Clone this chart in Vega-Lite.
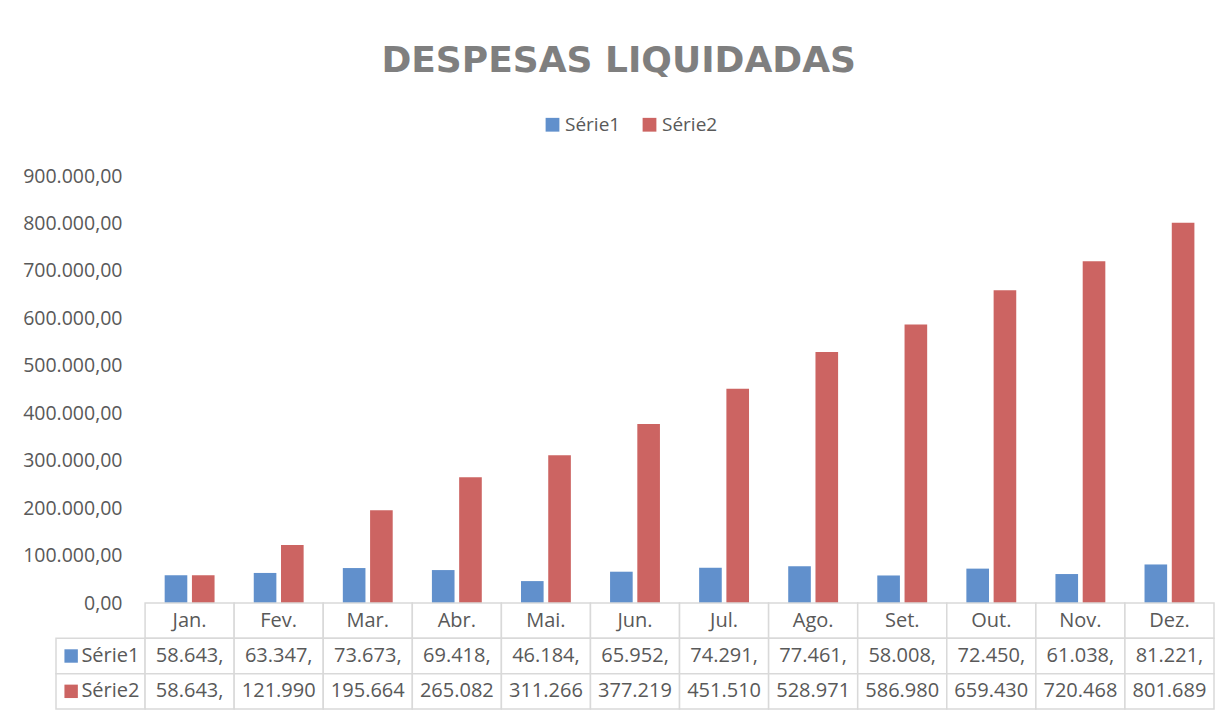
{
  "$schema": "https://vega.github.io/schema/vega-lite/v6.json",
  "background": "white",
  "padding": {"left": 22, "top": 43, "right": 10, "bottom": 5},
  "title": {"text": "DESPESAS LIQUIDADAS", "font": "DejaVu Sans", "fontSize": 36, "fontWeight": "bold", "color": "#7F7F7F", "anchor": "middle", "offset": 35},
  "config": {
    "locale": {"number": {"decimal": ",", "thousands": ".", "grouping": [3], "currency": ["", ""]}},
    "view": {"stroke": null},
    "font": "Open Sans"
  },
  "bounds": "flush",
  "spacing": 0,
  "resolve": {"scale": {"color": "independent"}, "legend": {"color": "independent"}},
  "datasets": {
    "bars": [
      {"month": "Jan.", "serie": "Série1", "value": 58643},
      {"month": "Fev.", "serie": "Série1", "value": 63347},
      {"month": "Mar.", "serie": "Série1", "value": 73673},
      {"month": "Abr.", "serie": "Série1", "value": 69418},
      {"month": "Mai.", "serie": "Série1", "value": 46184},
      {"month": "Jun.", "serie": "Série1", "value": 65952},
      {"month": "Jul.", "serie": "Série1", "value": 74291},
      {"month": "Ago.", "serie": "Série1", "value": 77461},
      {"month": "Set.", "serie": "Série1", "value": 58008},
      {"month": "Out.", "serie": "Série1", "value": 72450},
      {"month": "Nov.", "serie": "Série1", "value": 61038},
      {"month": "Dez.", "serie": "Série1", "value": 81221},
      {"month": "Jan.", "serie": "Série2", "value": 58643},
      {"month": "Fev.", "serie": "Série2", "value": 121990},
      {"month": "Mar.", "serie": "Série2", "value": 195664},
      {"month": "Abr.", "serie": "Série2", "value": 265082},
      {"month": "Mai.", "serie": "Série2", "value": 311266},
      {"month": "Jun.", "serie": "Série2", "value": 377219},
      {"month": "Jul.", "serie": "Série2", "value": 451510},
      {"month": "Ago.", "serie": "Série2", "value": 528971},
      {"month": "Set.", "serie": "Série2", "value": 586980},
      {"month": "Out.", "serie": "Série2", "value": 659430},
      {"month": "Nov.", "serie": "Série2", "value": 720468},
      {"month": "Dez.", "serie": "Série2", "value": 801689}
    ],
    "table": [
      {"col": "Jan.", "row": "h", "kind": "header", "text": "Jan."},
      {"col": "Fev.", "row": "h", "kind": "header", "text": "Fev."},
      {"col": "Mar.", "row": "h", "kind": "header", "text": "Mar."},
      {"col": "Abr.", "row": "h", "kind": "header", "text": "Abr."},
      {"col": "Mai.", "row": "h", "kind": "header", "text": "Mai."},
      {"col": "Jun.", "row": "h", "kind": "header", "text": "Jun."},
      {"col": "Jul.", "row": "h", "kind": "header", "text": "Jul."},
      {"col": "Ago.", "row": "h", "kind": "header", "text": "Ago."},
      {"col": "Set.", "row": "h", "kind": "header", "text": "Set."},
      {"col": "Out.", "row": "h", "kind": "header", "text": "Out."},
      {"col": "Nov.", "row": "h", "kind": "header", "text": "Nov."},
      {"col": "Dez.", "row": "h", "kind": "header", "text": "Dez."},
      {"col": "lbl", "row": "Série1", "kind": "label", "text": "Série1"},
      {"col": "lbl", "row": "Série2", "kind": "label", "text": "Série2"},
      {"col": "Jan.", "row": "Série1", "kind": "value", "text": "58.643,"},
      {"col": "Fev.", "row": "Série1", "kind": "value", "text": "63.347,"},
      {"col": "Mar.", "row": "Série1", "kind": "value", "text": "73.673,"},
      {"col": "Abr.", "row": "Série1", "kind": "value", "text": "69.418,"},
      {"col": "Mai.", "row": "Série1", "kind": "value", "text": "46.184,"},
      {"col": "Jun.", "row": "Série1", "kind": "value", "text": "65.952,"},
      {"col": "Jul.", "row": "Série1", "kind": "value", "text": "74.291,"},
      {"col": "Ago.", "row": "Série1", "kind": "value", "text": "77.461,"},
      {"col": "Set.", "row": "Série1", "kind": "value", "text": "58.008,"},
      {"col": "Out.", "row": "Série1", "kind": "value", "text": "72.450,"},
      {"col": "Nov.", "row": "Série1", "kind": "value", "text": "61.038,"},
      {"col": "Dez.", "row": "Série1", "kind": "value", "text": "81.221,"},
      {"col": "Jan.", "row": "Série2", "kind": "value", "text": "58.643,"},
      {"col": "Fev.", "row": "Série2", "kind": "value", "text": "121.990"},
      {"col": "Mar.", "row": "Série2", "kind": "value", "text": "195.664"},
      {"col": "Abr.", "row": "Série2", "kind": "value", "text": "265.082"},
      {"col": "Mai.", "row": "Série2", "kind": "value", "text": "311.266"},
      {"col": "Jun.", "row": "Série2", "kind": "value", "text": "377.219"},
      {"col": "Jul.", "row": "Série2", "kind": "value", "text": "451.510"},
      {"col": "Ago.", "row": "Série2", "kind": "value", "text": "528.971"},
      {"col": "Set.", "row": "Série2", "kind": "value", "text": "586.980"},
      {"col": "Out.", "row": "Série2", "kind": "value", "text": "659.430"},
      {"col": "Nov.", "row": "Série2", "kind": "value", "text": "720.468"},
      {"col": "Dez.", "row": "Série2", "kind": "value", "text": "801.689"}
    ]
  },
  "vconcat": [
    {
      "width": 1158,
      "height": 427,
      "data": {"name": "bars"},
      "mark": {"type": "bar"},
      "encoding": {
        "x": {"field": "month", "type": "nominal", "sort": null,
          "scale": {"domain": ["lbl", "Jan.", "Fev.", "Mar.", "Abr.", "Mai.", "Jun.", "Jul.", "Ago.", "Set.", "Out.", "Nov.", "Dez."], "paddingInner": 0.44, "paddingOuter": 0.22},
          "axis": null},
        "xOffset": {"field": "serie", "type": "nominal", "scale": {"paddingInner": 0.17}},
        "y": {"field": "value", "type": "quantitative",
          "scale": {"domain": [0, 900000], "nice": false},
          "axis": {"title": null, "offset": -89, "values": [0, 100000, 200000, 300000, 400000, 500000, 600000, 700000, 800000, 900000], "format": ",.2f", "grid": false, "domain": false, "ticks": false, "tickSize": 0, "labelPadding": 23, "labelFontSize": 19.5, "labelColor": "#595959", "labelFont": "Open Sans"}},
        "color": {"field": "serie", "type": "nominal",
          "scale": {"domain": ["Série1", "Série2"], "range": ["#6190CC", "#CC6462"]},
          "legend": {"title": null, "orient": "none", "legendX": 487, "legendY": -61, "direction": "horizontal", "symbolType": "square", "symbolSize": 190, "symbolStrokeWidth": 0, "labelFontSize": 19, "labelColor": "#595959", "labelFont": "Open Sans", "labelOffset": 3, "columnPadding": 19, "padding": 0}}
      }
    },
    {
      "width": 1158,
      "height": 106,
      "data": {"name": "table"},
      "encoding": {
        "x": {"field": "col", "type": "nominal", "sort": null,
          "scale": {"domain": ["lbl", "Jan.", "Fev.", "Mar.", "Abr.", "Mai.", "Jun.", "Jul.", "Ago.", "Set.", "Out.", "Nov.", "Dez."], "paddingInner": 0, "paddingOuter": 0},
          "axis": null},
        "y": {"field": "row", "type": "nominal", "sort": null,
          "scale": {"domain": ["h", "Série1", "Série2"], "paddingInner": 0, "paddingOuter": 0},
          "axis": null}
      },
      "layer": [
        {"mark": {"type": "rect", "fill": "white", "stroke": "#D9D9D9", "strokeWidth": 1.5}},
        {"transform": [{"filter": "datum.kind != 'label'"}],
          "mark": {"type": "text", "fontSize": 20, "color": "#595959", "font": "Open Sans", "align": "center", "baseline": "middle"},
          "encoding": {"text": {"field": "text"}}},
        {"transform": [{"filter": "datum.kind == 'label'"}],
          "mark": {"type": "text", "fontSize": 20, "color": "#595959", "font": "Open Sans", "align": "left", "baseline": "middle"},
          "encoding": {"x": {"field": "col", "type": "nominal", "bandPosition": 0.285}, "text": {"field": "text"}}},
        {"transform": [{"filter": "datum.kind == 'label'"}],
          "mark": {"type": "square", "size": 180, "opacity": 1},
          "encoding": {"x": {"field": "col", "type": "nominal", "bandPosition": 0.17},
            "color": {"field": "row", "type": "nominal", "scale": {"domain": ["Série1", "Série2"], "range": ["#6190CC", "#CC6462"]}, "legend": null}}}
      ]
    }
  ]
}
